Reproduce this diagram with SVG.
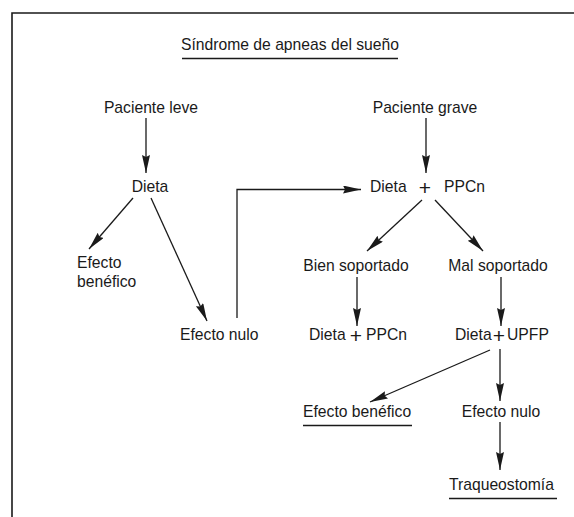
<svg xmlns="http://www.w3.org/2000/svg" width="574" height="517" viewBox="0 0 574 517">
<style>
text{font-family:"Liberation Sans",Arial,sans-serif;font-size:15.7px;fill:#1a1a1a}
.m{text-anchor:middle}
.plus{font-size:21px}
.c line,.c polyline{stroke:#1a1a1a;stroke-width:1.3;fill:none}
.u{stroke:#1a1a1a;stroke-width:1.3}
.frame{stroke:#1a1a1a;stroke-width:1.6;fill:none}
</style>
<defs>
<marker id="a" markerUnits="userSpaceOnUse" markerWidth="20" markerHeight="10" refX="18" refY="4" orient="auto">
<path d="M0,0 L18,4 L0,8 L2,4 Z" fill="#1a1a1a"/>
</marker>
</defs>
<rect width="574" height="517" fill="#fff"/>
<polyline class="frame" points="12,517 12,13 574,13"/>
<g id="title"><text class="m" x="290" y="50">Síndrome de apneas del sueño</text><line class="u" x1="182" y1="58.5" x2="398" y2="58.5"/></g>
<g id="paciente-leve"><text class="m" x="151" y="113">Paciente leve</text></g>
<g id="paciente-grave"><text class="m" x="425" y="113">Paciente grave</text></g>
<g id="dieta"><text class="m" x="150" y="192">Dieta</text></g>
<g id="efecto-benefico-1"><text x="77" y="268">Efecto</text><text x="77" y="287">benéfico</text></g>
<g id="efecto-nulo-1"><text x="180" y="340">Efecto nulo</text></g>
<g id="dieta-ppcn"><text x="370" y="192">Dieta</text><text class="plus m" x="425" y="195">+</text><text x="444" y="192">PPCn</text></g>
<g id="bien-soportado"><text class="m" x="356" y="271">Bien soportado</text></g>
<g id="mal-soportado"><text class="m" x="498" y="271">Mal soportado</text></g>
<g id="dieta-ppcn-2"><text x="309" y="340">Dieta</text><text class="plus m" x="356" y="343">+</text><text x="366" y="340">PPCn</text></g>
<g id="dieta-upfp"><text x="455" y="340">Dieta</text><text class="plus m" x="499" y="343">+</text><text x="507" y="340">UPFP</text></g>
<g id="efecto-benefico-2"><text x="303" y="417">Efecto benéfico</text><line class="u" x1="303" y1="425.5" x2="412" y2="425.5"/></g>
<g id="efecto-nulo-2"><text class="m" x="501" y="417">Efecto nulo</text></g>
<g id="traqueostomia"><text x="449" y="490">Traqueostomía</text><line class="u" x1="449" y1="498.5" x2="557" y2="498.5"/></g>
<g class="c" id="connectors">
<line x1="146" y1="118" x2="146" y2="173" marker-end="url(#a)"/>
<line x1="426" y1="118" x2="426" y2="173" marker-end="url(#a)"/>
<line x1="133" y1="198" x2="89" y2="249" marker-end="url(#a)"/>
<line x1="151" y1="198" x2="207" y2="321" marker-end="url(#a)"/>
<polyline points="237,318 237,189.5 361,189.5" marker-end="url(#a)"/>
<line x1="422" y1="200" x2="367" y2="251" marker-end="url(#a)"/>
<line x1="435" y1="200" x2="483" y2="251" marker-end="url(#a)"/>
<line x1="357" y1="277" x2="357" y2="326" marker-end="url(#a)"/>
<line x1="501" y1="277" x2="501" y2="326" marker-end="url(#a)"/>
<line x1="490" y1="350" x2="370" y2="402" marker-end="url(#a)"/>
<line x1="500" y1="349" x2="500" y2="401" marker-end="url(#a)"/>
<line x1="500" y1="422" x2="500" y2="470" marker-end="url(#a)"/>
</g>
</svg>
